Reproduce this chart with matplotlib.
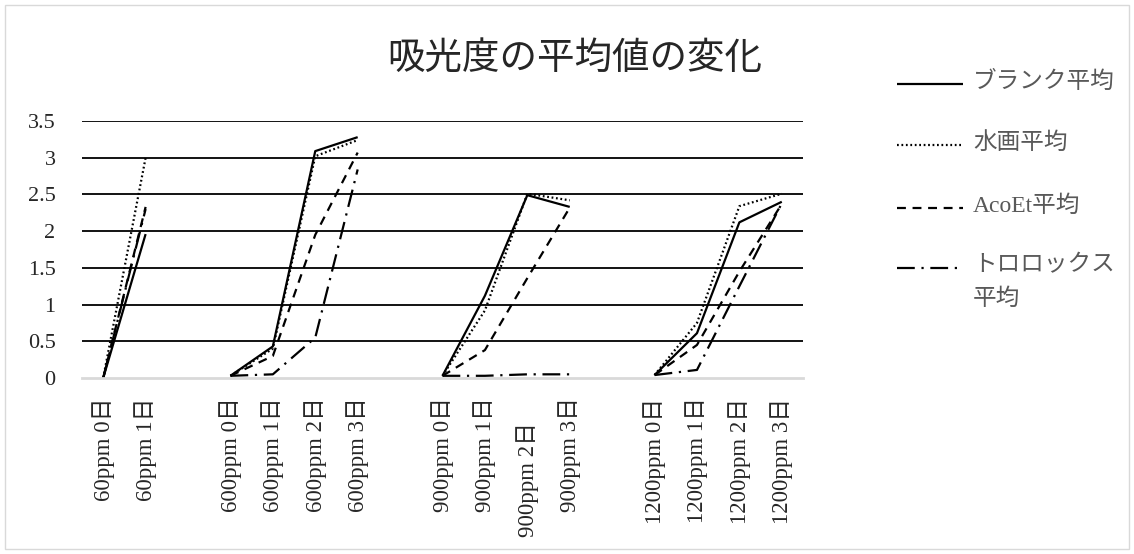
import numpy as np
import matplotlib
matplotlib.use("Agg")
import matplotlib.pyplot as plt
from matplotlib.lines import Line2D
from matplotlib.patches import Rectangle

plt.rcParams['font.family'] = ['Liberation Serif', 'Noto Sans CJK JP', 'DejaVu Sans']

nan = np.nan
categories = ["60ppm 0日", "60ppm 1日", "",
              "600ppm 0日", "600ppm 1日", "600ppm 2日", "600ppm 3日", "",
              "900ppm 0日", "900ppm 1日", "900ppm 2日", "900ppm 3日", "",
              "1200ppm 0日", "1200ppm 1日", "1200ppm 2日", "1200ppm 3日"]

blank_avg = [0.00, 1.96, nan, 0.03, 0.43, 3.09, 3.28, nan,
             0.03, 1.12, 2.49, 2.33, nan, 0.04, 0.61, 2.12, 2.40]
suiga_avg = [0.00, 3.00, nan, 0.03, 0.40, 3.02, 3.24, nan,
             0.03, 0.92, 2.51, 2.42, nan, 0.04, 0.75, 2.34, 2.51]
acoet_avg = [0.00, 2.33, nan, 0.03, 0.30, 1.95, 3.07, nan,
             0.03, 0.38, 1.36, 2.32, nan, 0.04, 0.45, 1.45, 2.37]
torolox_avg = [0.00, 2.30, nan, 0.03, 0.05, 0.55, 2.84, nan,
               0.03, 0.03, 0.05, 0.05, nan, 0.04, 0.11, 1.25, 2.38]

series_names = ["ブランク平均", "水画平均", "AcoEt平均", "トロロックス\n平均"]
series_values = [blank_avg, suiga_avg, acoet_avg, torolox_avg]
styles = ['-', (0, (0.8, 1.2)), (0, (4, 3)), (0, (8, 3, 1, 3))]
yticks = [0, 0.5, 1, 1.5, 2, 2.5, 3, 3.5]
ytick_labels = ["0", "0.5", "1", "1.5", "2", "2.5", "3", "3.5"]

W, H = 1134, 554
fig = plt.figure(figsize=(W / 100, H / 100), dpi=100)
fig.patch.set_facecolor('white')
fig.add_artist(Rectangle((5 / W, 5 / H), 1 - 10 / W, 1 - 10 / H, transform=fig.transFigure,
                         fill=False, edgecolor='#d9d9d9', lw=1.0))

ax = fig.add_axes([82 / W, 1 - 378 / H, (803 - 82) / W, (378 - 121) / H])
x = np.arange(len(categories))

for name, vals, ls in zip(series_names, series_values, styles):
    ax.plot(x, vals, color='black', lw=1.6, linestyle=ls,
            solid_capstyle='butt', dash_capstyle='butt', label=name)

ax.set_xlim(-0.5, len(categories) - 0.5)
ax.set_ylim(0, 3.5)
ax.set_yticks(yticks)
ax.set_yticklabels(ytick_labels)
ax.set_xticks(x)
ax.set_xticklabels(categories, rotation=90, va='top', ha='center')
for spine in ['top', 'right', 'left']:
    ax.spines[spine].set_visible(False)
ax.spines['bottom'].set_color('#d9d9d9')
ax.spines['bottom'].set_linewidth(2.0)
for yv in yticks[1:]:
    ax.axhline(yv, color='black', lw=1.3, zorder=0)
ax.tick_params(axis='both', length=0, colors='#262626')
ax.tick_params(axis='y', pad=19, labelsize=16)
ax.tick_params(axis='x', pad=14, labelsize=16.5)
ticks = ax.xaxis.get_major_ticks()
ticks[10].set_pad(32)

fig.text(575 / W, 1 - 60 / H, "吸光度の平均値の変化", ha='center', va='center',
         fontsize=27, color='#262626')

# legend (drawn at the right side)
leg_y = [84, 145, 208, 268]
for name, ls, yy in zip(series_names, styles, leg_y):
    fig.add_artist(Line2D([897 / W, 963 / W], [1 - yy / H, 1 - yy / H],
                          transform=fig.transFigure, color='black', lw=1.6, linestyle=ls,
                          solid_capstyle='butt', dash_capstyle='butt'))
    fig.text(973 / W, 1 - (yy - 13) / H, name, ha='left', va='top', fontsize=17,
             color='#595959', linespacing=1.75)

fig.savefig("out.png", dpi=100)
